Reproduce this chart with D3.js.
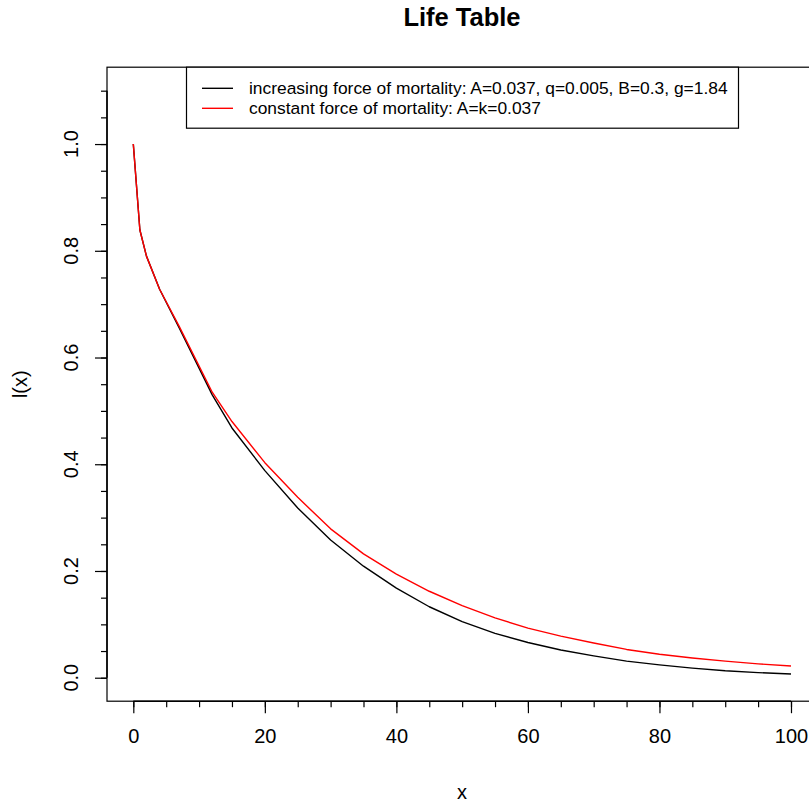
<!DOCTYPE html>
<html>
<head>
<meta charset="utf-8">
<script src="https://cdn.jsdelivr.net/npm/d3@7/dist/d3.min.js"></script>
<style>
  html, body { margin: 0; padding: 0; background: #fff; }
  svg { display: block; font-family: "Liberation Sans", Arial, sans-serif; }
</style>
</head>
<body>
<svg id="chart" width="809" height="805"></svg>
<script>
// Survivorship l(x) by age under two mortality models
const ages = [0, 1, 2, 4, 7, 12, 15, 20, 25, 30, 35, 40, 45, 50, 55, 60, 65, 70, 75, 80, 85, 90, 95, 100];
const increasingForce = [1.0, 0.839, 0.790, 0.728, 0.655, 0.530, 0.468, 0.388, 0.318, 0.258, 0.209, 0.168, 0.133, 0.105, 0.083, 0.066, 0.052, 0.041, 0.031, 0.024, 0.018, 0.013, 0.0095, 0.007];
const constantForce   = [1.0, 0.839, 0.790, 0.728, 0.658, 0.535, 0.480, 0.403, 0.338, 0.279, 0.232, 0.194, 0.162, 0.135, 0.112, 0.093, 0.078, 0.065, 0.053, 0.044, 0.037, 0.031, 0.026, 0.022];

const xTicks = [0, 20, 40, 60, 80, 100];
const yTicks = [0, 0.2, 0.4, 0.6, 0.8, 1.0];

const legendLabels = [
  "increasing force of mortality: A=0.037, q=0.005, B=0.3, g=1.84",
  "constant force of mortality: A=k=0.037"
];
const seriesColors = ["#000000", "#ff0000"];

const svg = d3.select("#chart");

// plot region (data range padded by 4% on each side)
const x = d3.scaleLinear().domain([-4, 104]).range([107, 817.3]);
const y = d3.scaleLinear().domain([-0.044, 1.144]).range([701.2, 67.2]);

// curves
const line = d3.line().x(d => x(d[0])).y(d => y(d[1]));
const series = [increasingForce, constantForce];
series.forEach((vals, i) => {
  svg.append("path")
    .datum(ages.map((a, j) => [a, vals[j]]))
    .attr("fill", "none")
    .attr("stroke", seriesColors[i])
    .attr("stroke-width", 1.4)
    .attr("stroke-linejoin", "round")
    .attr("d", line);
});

// frame around the plot region
svg.append("rect")
  .attr("x", x(-4)).attr("y", y(1.144))
  .attr("width", x(104) - x(-4)).attr("height", y(-0.044) - y(1.144))
  .attr("fill", "none").attr("stroke", "#000").attr("stroke-width", 1.2);

// x axis: labelled every 20, minor ticks every 5
const xAxis = svg.append("g").attr("transform", `translate(0,${y(-0.044)})`);
xAxis.call(d3.axisBottom(x).tickValues(d3.range(0, 101, 5)).tickSize(6).tickFormat(""))
  .call(g => g.select(".domain").remove());
xAxis.append("g")
  .call(d3.axisBottom(x).tickValues(xTicks).tickSize(12).tickFormat(d3.format("d")).tickPadding(16))
  .call(g => g.select(".domain").attr("d", `M${x(0)},0H${x(100)}`).attr("stroke-width", 1.5))
  .call(g => g.selectAll("text").attr("font-size", 20).attr("fill", "#000")
    .attr("font-family", "Liberation Sans, Arial, sans-serif"));
xAxis.selectAll("line").attr("stroke-width", 1.2);

// y axis: labelled every 0.2, minor ticks every 0.05
const yAxis = svg.append("g").attr("transform", `translate(${x(-4)},0)`);
yAxis.call(d3.axisLeft(y).tickValues(d3.range(0, 23).map(i => i * 0.05)).tickSize(6).tickFormat(""))
  .call(g => g.select(".domain").remove());
yAxis.append("g")
  .call(d3.axisLeft(y).tickValues(yTicks).tickSize(12).tickFormat(d3.format(".1f")))
  .call(g => g.select(".domain").attr("d", `M0,${y(0)}V${y(1.1)}`).attr("stroke-width", 1.5))
  .call(g => g.selectAll("text").remove());
yAxis.selectAll("line").attr("stroke-width", 1.2);

// rotated y tick labels
svg.append("g").selectAll("text").data(yTicks).join("text")
  .attr("transform", d => `translate(78,${y(d)}) rotate(-90)`)
  .attr("text-anchor", "middle")
  .attr("font-size", 20)
  .text(d3.format(".1f"));

// title and axis titles
svg.append("text").attr("x", 462).attr("y", 26)
  .attr("text-anchor", "middle").attr("font-size", 25.5).attr("font-weight", "bold")
  .text("Life Table");
svg.append("text").attr("x", 462).attr("y", 799)
  .attr("text-anchor", "middle").attr("font-size", 20).text("x");
svg.append("text").attr("transform", `translate(27,${(y(-0.044) + y(1.144)) / 2}) rotate(-90)`)
  .attr("text-anchor", "middle").attr("font-size", 20).text("l(x)");

// legend
const legend = svg.append("g");
legend.append("rect")
  .attr("x", 186.5).attr("y", 67.2).attr("width", 552).attr("height", 61)
  .attr("fill", "#fff").attr("stroke", "#000").attr("stroke-width", 1.2);
legendLabels.forEach((lab, i) => {
  const cy = 88.3 + i * 20;
  legend.append("line")
    .attr("x1", 202).attr("x2", 233).attr("y1", cy).attr("y2", cy)
    .attr("stroke", seriesColors[i]).attr("stroke-width", 1.4);
  legend.append("text")
    .attr("x", 249).attr("y", cy + 6)
    .attr("font-size", 17.4).text(lab);
});
</script>
</body>
</html>
